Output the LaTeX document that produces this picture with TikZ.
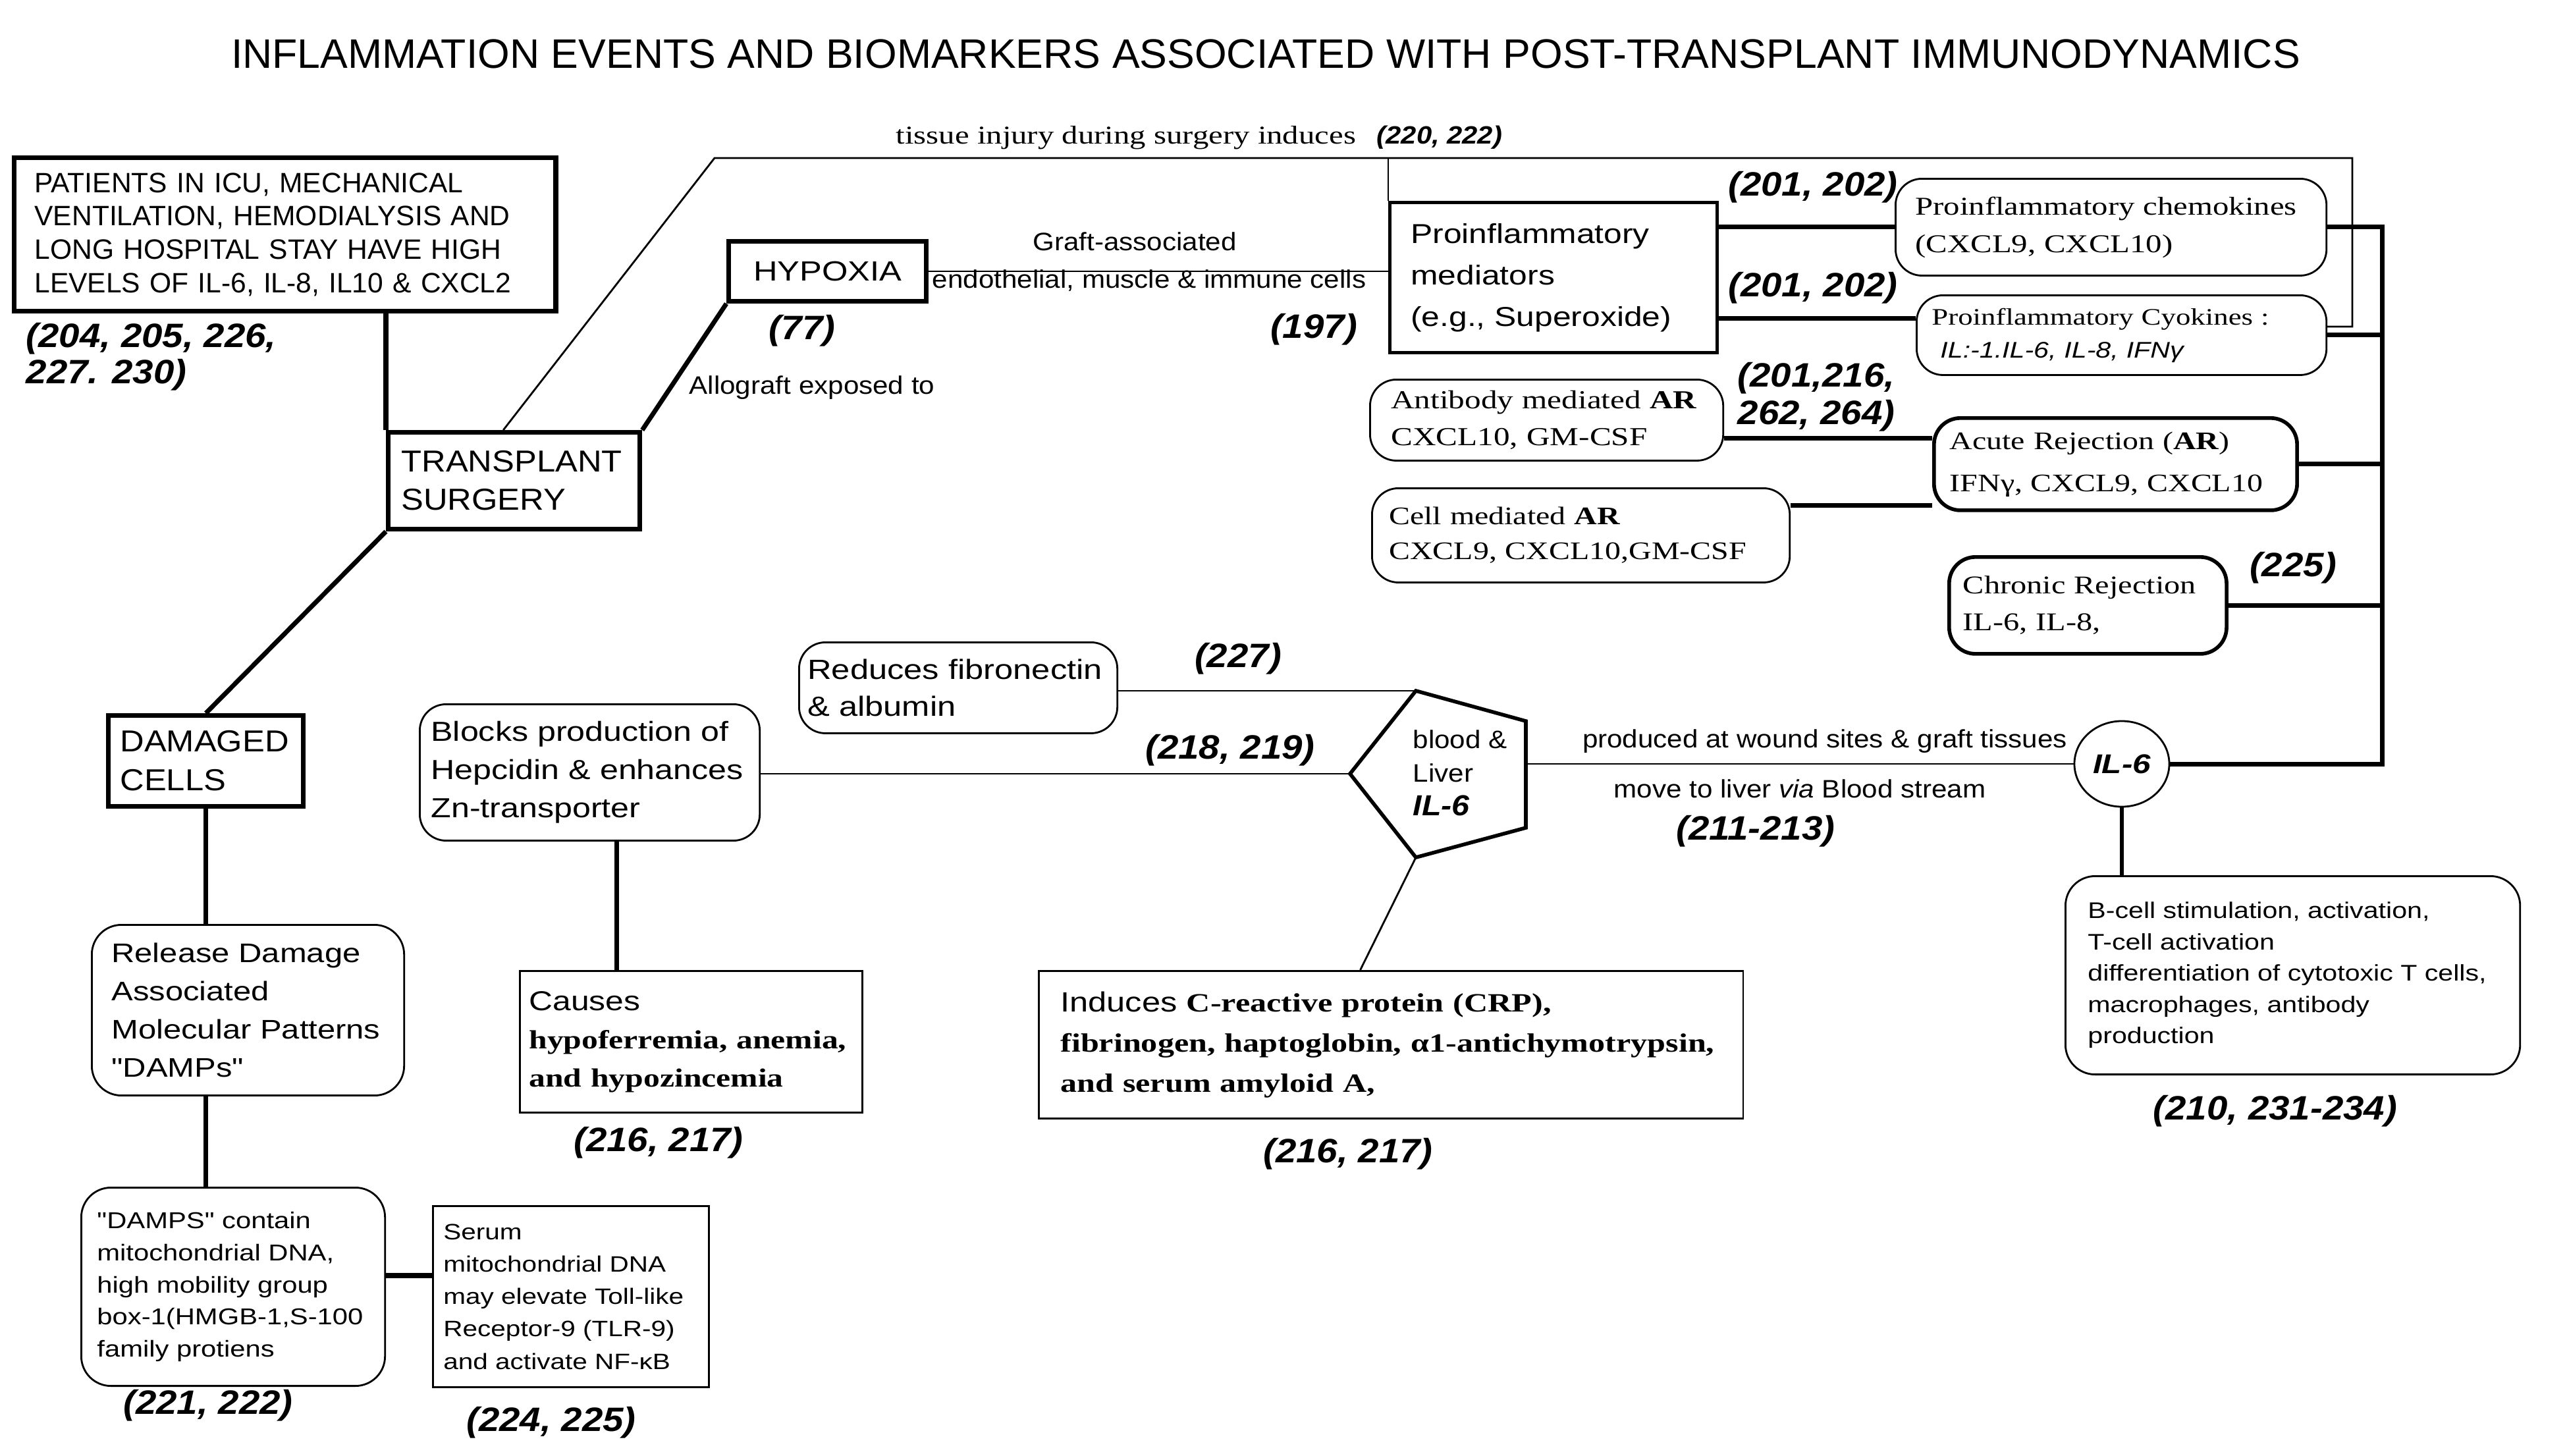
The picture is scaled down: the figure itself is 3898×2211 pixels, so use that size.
\documentclass[tikz,border=0pt]{standalone}
\usepackage{fontspec}
\setmainfont{Liberation Sans}
\newfontfamily\wsans[FakeStretch=1.2]{Liberation Sans}
\newfontfamily\msans[FakeStretch=1.1]{Liberation Sans}
\newfontfamily\wserif[FakeStretch=1.25]{Liberation Serif}
\usetikzlibrary{calc, shapes.geometric, backgrounds}
\newcommand{\fsz}[2]{\fontsize{#1}{#2}\selectfont}
\tikzset{
    sqbox/.style={rectangle, draw, line width=2pt, fill=white, align=left, inner ysep=0pt, anchor=north west},
    thinbox/.style={sqbox, line width=0.8pt},
    rbox/.style={sqbox, rounded corners=0.4cm, line width=0.8pt},
    refnum/.style={font={\msans\bfseries\itshape\fsz{14.6}{15.4}}, inner sep=0pt, anchor=base},
    lbl/.style={font={\msans\fsz{10.9}{12}}, inner sep=0pt, anchor=base},
    heavy/.style={line width=2pt},
    medium/.style={line width=1.5pt},
    light/.style={line width=0.8pt},
}

\begin{document}
\begin{tikzpicture}[x=0.01cm, y=-0.01cm]
    \useasboundingbox (0,0) rectangle (3898,2211);

    % Titolo
    \node[font={\fsz{17.8}{20}}, inner sep=0pt, anchor=base] (title) at (1922,103) {INFLAMMATION EVENTS AND BIOMARKERS ASSOCIATED WITH POST-TRANSPLANT IMMUNODYNAMICS};

    % Colonna sinistra
    \node[sqbox, text width=7.60cm, inner xsep=0.31cm, minimum height=2.33cm, font={\fsz{12.1}{14.4}}] (pat) at (18,236) {PATIENTS IN ICU, MECHANICAL\\VENTILATION, HEMODIALYSIS AND\\LONG HOSPITAL STAY HAVE HIGH\\LEVELS OF IL-6, IL-8, IL10 \& CXCL2};
    \node[refnum, anchor=north west, align=left] (rpat) at (39,490) {(204, 205, 226,\\227. 230)};
    \node[sqbox, text width=3.42cm, inner xsep=0.20cm, minimum height=1.47cm, font={\msans\fsz{13.1}{16.5}}] (trans) at (586,653) {TRANSPLANT\\SURGERY};
    \node[sqbox, text width=2.60cm, inner xsep=0.20cm, minimum height=0.91cm, align=center, font={\wsans\fsz{12}{13}}] (hyp) at (1103,363) {HYPOXIA};
    \node[refnum] (r77) at (1218,515) {(77)};
    \node[lbl, anchor=base west] (allo) at (1046,598) {Allograft exposed to};
    \node[sqbox, text width=2.60cm, inner xsep=0.18cm, minimum height=1.38cm, font={\msans\fsz{13.1}{16.8}}] (dam) at (161,1083) {DAMAGED\\CELLS};
    \node[rbox, rounded corners=0.45cm, text width=4.14cm, inner xsep=0.30cm, minimum height=2.59cm, font={\wsans\fsz{11.6}{16.5}}] (rel) at (138,1403) {Release Damage\\Associated\\Molecular Patterns\\"DAMPs"};
    \node[rbox, rounded corners=0.45cm, text width=4.13cm, inner xsep=0.24cm, minimum height=3.01cm, font={\wsans\fsz{9.9}{13.8}}] (damps) at (122,1802) {"DAMPS" contain\\mitochondrial DNA,\\high mobility group\\box-1(HMGB-1,S-100\\family protiens};
    \node[thinbox, text width=3.87cm, inner xsep=0.16cm, minimum height=2.75cm, font={\wsans\fsz{9.6}{14}}] (serum) at (656,1830) {Serum\\mitochondrial DNA\\may elevate Toll-like\\Receptor-9 (TLR-9)\\and activate NF-κB};
    \node[refnum] (r221) at (316,2147) {(221, 222)};
    \node[refnum] (r224) at (837,2173) {(224, 225)};

    % Centro
    \node[font={\wserif\fsz{11.1}{12}}, inner sep=0pt, anchor=base west] (injury) at (1360,218) {tissue injury during surgery induces};
    \node[refnum, anchor=base west, font={\msans\bfseries\itshape\fsz{10.8}{12}}] (r220) at (2090,218) {(220, 222)};
    \node[lbl] (graft) at (1723,380) {Graft-associated};
    \node[lbl] (endo) at (1745,437) {endothelial, muscle \& immune cells};
    \node[refnum] (r197) at (1995,513) {(197)};
    \node[sqbox, line width=1.3pt, text width=4.33cm, inner xsep=0.32cm, minimum height=2.28cm, font={\wsans\fsz{11.8}{17.9}}] (med) at (2108,305) {Proinflammatory\\mediators\\(e.g., Superoxide)};
    \node[rbox, text width=4.57cm, inner xsep=0.13cm, minimum height=1.38cm, font={\wsans\fsz{12}{16}}] (reduce) at (1212,974) {Reduces fibronectin\\\& albumin};
    \node[rbox, text width=4.82cm, inner xsep=0.17cm, minimum height=2.07cm, font={\wsans\fsz{11.9}{16.5}}] (blocks) at (636,1068) {Blocks production of\\Hepcidin \& enhances\\Zn-transporter};
    \node[thinbox, text width=4.92cm, inner xsep=0.14cm, minimum height=2.15cm, font={\wsans\fsz{11.8}{16.5}}] (causes) at (788,1473) {Causes\\{\wserif\bfseries\fsz{11.3}{16.5}hypoferremia, anemia,}\\{\wserif\bfseries\fsz{11.3}{16.5}and hypozincemia}};
    \node[refnum] (r216b) at (1000,1748) {(216, 217)};
    \node[refnum] (r227) at (1880,1013) {(227)};
    \node[refnum] (r218) at (1868,1152) {(218, 219)};
    \node[thinbox, text width=10.03cm, inner xsep=0.33cm, minimum height=2.24cm, font={\wsans\fsz{12}{17.4}}] (crp) at (1576,1473) {Induces {\wserif\bfseries\fsz{11.4}{17.4}C-reactive protein (CRP),}\\{\wserif\bfseries\fsz{11.4}{17.4}fibrinogen, haptoglobin, α1-antichymotrypsin,}\\{\wserif\bfseries\fsz{11.4}{17.4}and serum amyloid A,}};
    \node[refnum] (r216a) at (2047,1765) {(216, 217)};

    % Pentagono fegato
    \coordinate (pT) at (2150,1049);
    \coordinate (pUR) at (2317,1095);
    \coordinate (pLR) at (2317,1257);
    \coordinate (pB) at (2150,1302);
    \coordinate (pL) at (2050,1175);
    \coordinate (pR) at (2317,1160);
    \draw[line width=1.6pt, fill=white] (pT) -- (pUR) -- (pLR) -- (pB) -- (pL) -- cycle;
    \node[anchor=north west, inner sep=0pt, align=left, font={\msans\fsz{10.9}{14.5}}] (liver) at (2145,1108) {blood \&\\Liver\\{\bfseries\itshape\fsz{12.5}{14.5}IL-6}};

    % Colonna destra
    \node[rbox, text width=5.94cm, inner xsep=0.30cm, minimum height=1.47cm, font={\wserif\fsz{11.1}{16.2}}] (chemo) at (2877,270) {Proinflammatory chemokines\\(CXCL9, CXCL10)};
    \node[rbox, text width=5.76cm, inner xsep=0.23cm, minimum height=1.21cm, font={\wserif\fsz{10.2}{14.2}}] (cyok) at (2909,447) {Proinflammatory Cyokines :\\\hspace*{0.13cm}{\wsans\itshape\fsz{9.75}{14.2}IL:-1.IL-6, IL-8, IFNγ}};
    \node[refnum] (r201a) at (2753,297) {(201, 202)};
    \node[refnum] (r201b) at (2753,450) {(201, 202)};
    \node[refnum, anchor=north west, align=left, font={\msans\bfseries\itshape\fsz{14.6}{16.2}}] (r262) at (2638,550) {(201,216,\\262, 264)};
    \node[rbox, text width=4.72cm, inner xsep=0.32cm, minimum height=1.23cm, font={\wserif\fsz{11.2}{16}}] (anti) at (2079,575) {Antibody mediated \textbf{AR}\\CXCL10, GM-CSF};
    \node[rbox, line width=1.6pt, text width=5.03cm, inner xsep=0.24cm, minimum height=1.40cm, font={\wserif\fsz{10.9}{18.2}}] (acute) at (2934,632) {Acute Rejection (\textbf{AR})\\IFNγ, CXCL9, CXCL10};
    \node[rbox, text width=5.82cm, inner xsep=0.26cm, minimum height=1.43cm, font={\wserif\fsz{10.9}{15}}] (cell) at (2082,740) {Cell mediated \textbf{AR}\\CXCL9, CXCL10,GM-CSF};
    \node[rbox, line width=1.6pt, text width=3.79cm, inner xsep=0.21cm, minimum height=1.47cm, font={\wserif\fsz{11}{16}}] (chron) at (2957,843) {Chronic Rejection\\IL-6, IL-8,};
    \node[refnum] (r225) at (3482,875) {(225)};
    \node[ellipse, draw, line width=0.8pt, fill=white, minimum width=1.44cm, minimum height=1.30cm, inner sep=0pt, font={\wsans\bfseries\itshape\fsz{11.7}{12}}] (il6) at (3222,1160) {IL-6};
    \node[lbl] (wound) at (2771,1135) {produced at wound sites \& graft tissues};
    \node[lbl] (stream) at (2733,1211) {move to liver \textit{via} Blood stream};
    \node[refnum] (r211) at (2666,1275) {(211-213)};
    \node[rbox, rounded corners=0.45cm, text width=6.22cm, inner xsep=0.34cm, minimum height=3.01cm, font={\wsans\fsz{9.75}{13.5}}] (bcell) at (3135,1329) {B-cell stimulation, activation,\\T-cell activation\\differentiation of cytotoxic T cells,\\macrophages, antibody\\production};
    \node[refnum] (r210) at (3455,1700) {(210, 231-234)};

    % Collegamenti
    \begin{scope}[on background layer]
        \fill[white] (0,0) rectangle (3898,2211);
        \draw[heavy] (trans.north west |- pat.south) -- (trans.north west);
        \draw[heavy] (trans.north east) -- (hyp.south west);
        \coordinate (cutA) at ($(trans.north west)!0.458!(trans.north east)$);
        \coordinate (bendA) at (1085,240);
        \coordinate (bendB) at (3572,240);
        \draw[light] (cutA) -- (bendA) -- (bendB) |- ([yshift=0.13cm]cyok.east);
        \draw[light] (med.north west) -- (med.north west |- bendA);
        \draw[light] (hyp.east) -- (hyp.east -| med.west);
        \draw[heavy] (chemo.west) -- (chemo.west -| med.east);
        \draw[heavy] ([yshift=0.25cm]cyok.west) -- ([yshift=0.25cm]cyok.west -| med.east);
        \coordinate (bus) at (3617,1160);
        \draw[heavy] (chemo.east) -| (bus) -- (il6.east);
        \draw[heavy] (cyok.east) -- (cyok.east -| bus);
        \draw[heavy] (acute.east) -- (acute.east -| bus);
        \draw[heavy] (chron.east) -- (chron.east -| bus);
        \coordinate (antiOut) at ($(anti.north east)!0.715!(anti.south east)$);
        \draw[heavy] (antiOut) -- (antiOut -| acute.west);
        \coordinate (cellOut) at ($(cell.north east)!0.19!(cell.south east)$);
        \draw[heavy] (cellOut) -- (cellOut -| acute.west);
        \draw[medium] (il6.south) -- (il6.south |- bcell.north);
        \draw[light] (pR) -- (il6.west);
        \draw[light] (pL -| blocks.east) -- (pL);
        \draw[light] (pT -| reduce.east) -- (pT);
        \coordinate (crpIn) at ($(crp.north west)!0.4565!(crp.north east)$);
        \draw[light] (pB) -- (crpIn);
        \coordinate (causIn) at ($(causes.north west)!0.283!(causes.north east)$);
        \draw[heavy] (causIn) -- (causIn |- blocks.south);
        \draw[heavy] (trans.south west) -- (dam.north);
        \draw[heavy] (dam.south) -- (dam.south |- rel.north);
        \draw[heavy] (rel.south -| dam.south) -- (damps.north -| dam.south);
        \draw[heavy] ([yshift=0.17cm]damps.east) -- ([yshift=0.17cm]damps.east -| serum.west);
    \end{scope}
\end{tikzpicture}
\end{document}
